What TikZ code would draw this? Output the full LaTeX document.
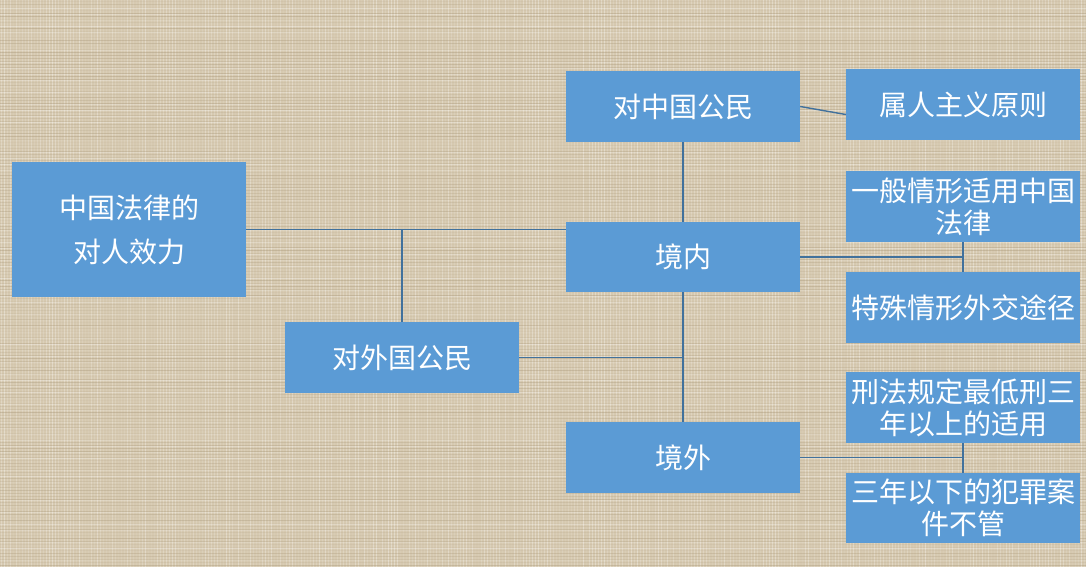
\documentclass[tikz,border=0pt]{standalone}
\usepackage{fontspec}
\setmainfont{Noto Sans CJK SC}
\definecolor{cloth}{HTML}{D6C9B0}
\definecolor{clothdark}{HTML}{A08E6E}
\definecolor{boxblue}{HTML}{5B9BD5}
\definecolor{linkblue}{HTML}{41719C}
\tikzset{
  card/.style={draw=none, fill=boxblue, text=white, minimum width=234pt,
    minimum height=71pt, inner sep=1pt, align=center,
    font=\fontsize{28}{32}\selectfont},
  link/.style={draw=linkblue, line width=1.4pt}
}
\begin{document}
\begin{tikzpicture}[x=1pt, y=-1pt]
\useasboundingbox (0,0) rectangle (1086,567);
% linen background
\fill[cloth] (0,0) rectangle (1086,567);
\pgfmathsetseed{11}
\foreach \i in {1,4,...,1086} {
  \pgfmathsetmacro\o{0.05+rnd*0.3}
  \draw[white, opacity=\o, line width=0.7pt] (\i,0) -- (\i,567);
}
\foreach \j in {1,4,...,567} {
  \pgfmathsetmacro\o{0.05+rnd*0.3}
  \draw[clothdark, opacity=\o, line width=0.7pt] (0,\j) -- (1086,\j);
}
\foreach \j in {2.5,8.5,...,567} {
  \pgfmathsetmacro\o{rnd*0.3}
  \draw[white, opacity=\o, line width=0.6pt] (0,\j) -- (1086,\j);
}

% boxes
\node[card, minimum height=135pt, text width=170pt,
  font=\fontsize{28}{44}\selectfont] (law) at (129,229.5) {中国法律的\\对人效力};
\node[card] (cn) at (683,106.5) {对中国公民};
\node[card] (pers) at (963,104.5) {属人主义原则};
\node[card] (gen) at (963,206.5) {一般情形适用中国\\法律};
\node[card, minimum height=70pt] (in) at (683,257) {境内};
\node[card] (dip) at (963,307.5) {特殊情形外交途径};
\node[card] (fo) at (402,357.5) {对外国公民};
\node[card] (three) at (963,407.5) {刑法规定最低刑三\\年以上的适用};
\node[card] (out) at (683,457.5) {境外};
\node[card, minimum height=70pt] (less) at (963,508) {三年以下的犯罪案\\件不管};

% connectors
\draw[link] (law.east) -- (law.east -| in.west);
\draw[link] (law.east -| fo.north) -- (fo.north);
\draw[link] (cn.south) -- (in.north);
\draw[link] (in.south) -- (out.north);
\draw[link] (fo.east) -- (fo.east -| in.south);
\draw[link] (cn.east) -- ([yshift=-10pt]pers.west);
\draw[link] (in.east) -- (in.east -| gen.south);
\draw[link] (gen.south) -- (dip.north);
\draw[link] (out.east) -- (out.east -| three.south);
\draw[link] (three.south) -- (less.north);
\end{tikzpicture}
\end{document}
